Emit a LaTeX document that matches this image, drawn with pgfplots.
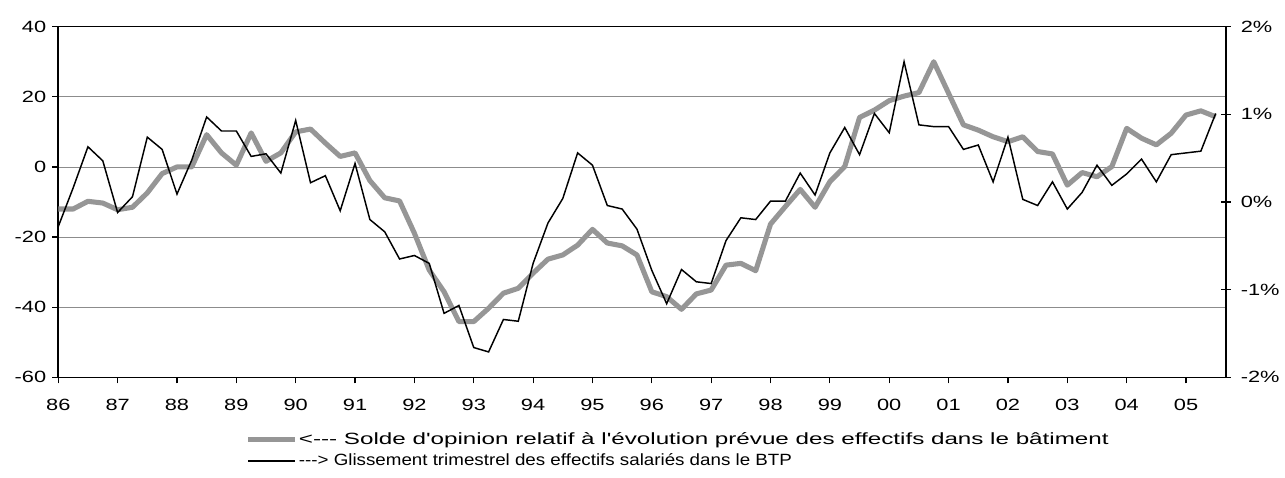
\documentclass[border=0pt]{standalone}
\usepackage{pgfplots}
\pgfplotsset{compat=1.18}
\usepackage{graphicx}
\usepackage{fontspec}
\setmainfont{Liberation Sans}[Ligatures=TeXOff, FakeStretch=1.34]
\definecolor{serieA}{RGB}{150,150,150}
\definecolor{gridc}{RGB}{140,140,140}
\pgfplotstableread{
i v
0 -12
1 -12
2 -9.8
3 -10.3
4 -12.2
5 -11.5
6 -7.4
7 -1.9
8 0
9 0
10 9.2
11 4
12 0.5
13 9.7
14 1.6
15 4
16 10
17 10.8
18 6.8
19 3
20 4
21 -3.9
22 -8.8
23 -9.7
24 -18.9
25 -29.4
26 -35.6
27 -44.1
28 -44.1
29 -40.3
30 -36
31 -34.6
32 -30.3
33 -26.3
34 -25.1
35 -22.3
36 -17.8
37 -21.7
38 -22.5
39 -25.1
40 -35.6
41 -37
42 -40.6
43 -36.2
44 -35.1
45 -28
46 -27.5
47 -29.6
48 -16.3
49 -11.3
50 -6.4
51 -11.5
52 -4.2
53 0.1
54 14.1
55 16.2
56 18.9
57 20.2
58 21.2
59 30
60 21
61 12
62 10.5
63 8.6
64 7.2
65 8.6
66 4.4
67 3.7
68 -5.2
69 -1.6
70 -2.8
71 0.1
72 11
73 8.2
74 6.3
75 9.6
76 14.8
77 16
78 14.3
}\solde
\pgfplotstableread{
i v
0 -0.28
1 0.16
2 0.63
3 0.47
4 -0.12
5 0.06
6 0.74
7 0.60
8 0.09
9 0.48
10 0.97
11 0.81
12 0.81
13 0.52
14 0.55
15 0.33
16 0.93
17 0.22
18 0.30
19 -0.10
20 0.44
21 -0.20
22 -0.34
23 -0.65
24 -0.61
25 -0.70
26 -1.27
27 -1.18
28 -1.66
29 -1.71
30 -1.34
31 -1.36
32 -0.70
33 -0.24
34 0.04
35 0.56
36 0.42
37 -0.04
38 -0.08
39 -0.31
40 -0.78
41 -1.16
42 -0.77
43 -0.91
44 -0.93
45 -0.44
46 -0.18
47 -0.20
48 0.01
49 0.01
50 0.33
51 0.08
52 0.56
53 0.85
54 0.54
55 1.01
56 0.79
57 1.60
58 0.88
59 0.86
60 0.86
61 0.60
62 0.65
63 0.23
64 0.74
65 0.03
66 -0.04
67 0.23
68 -0.08
69 0.11
70 0.42
71 0.19
72 0.32
73 0.49
74 0.23
75 0.54
76 0.56
77 0.58
78 1.01
}\glissement
\begin{document}
\begin{tikzpicture}
\path[use as bounding box] (-43.7pt,-74.8pt) rectangle (920pt,283pt);
\begin{axis}[
  at={(0,0)}, anchor=south west, scale only axis,
  width=875.8pt, height=263pt,
  xmin=0, xmax=78.7, ymin=-60, ymax=40,
  xtick={0,4,...,76},
  xticklabels={86,87,88,89,90,91,92,93,94,95,96,97,98,99,00,01,02,03,04,05},
  ytick={-60,-40,-20,0,20,40},
  yticklabels={-60,-40,-20,0,20,40},
  xtick pos=bottom, ytick pos=left,
  tick align=outside, major tick length=4.5pt,
  ymajorgrids, grid style={gridc, line width=0.6pt},
  axis line style={line width=1.2pt},
  tick style={black, line width=0.9pt},
  ticklabel style={font=\fontsize{12.2}{14}\selectfont},
  xticklabel style={yshift=-8pt},
  yticklabel style={xshift=-1pt},
  clip=false,
]
\addplot[serieA, line width=3.8pt, line join=round] table[x=i, y=v] {\solde};
\end{axis}
\begin{axis}[
  at={(0,0)}, anchor=south west, scale only axis,
  width=875.8pt, height=263pt,
  xmin=0, xmax=78.7, ymin=-2, ymax=2,
  axis x line=none, axis y line*=right,
  ytick={-2,-1,0,1,2},
  yticklabels={-2\%,-1\%,0\%,1\%,2\%},
  tick align=center, major tick length=7pt,
  axis line style={line width=1.2pt},
  tick style={black, line width=0.9pt},
  ticklabel style={font=\fontsize{12.2}{14}\selectfont},
  yticklabel style={xshift=4pt},
  clip=false,
  legend style={at={(0.157,-0.145)}, anchor=north west, draw=none, fill=none,
    font=\fontsize{12.2}{14}\selectfont, row sep=3.5pt,
    nodes={inner sep=1pt}},
  legend cell align=left,
  legend image code/.code={\draw[#1] (0pt,0pt) -- (35pt,0pt);},
]
\addlegendimage{serieA, line width=3.8pt}
\addlegendentry{\scalebox{1.11}[1]{<--- Solde d'opinion relatif à l'évolution prévue des effectifs dans le bâtiment}}
\addplot[black, line width=1.1pt, line join=miter] table[x=i, y=v] {\glissement};
\addlegendentry{\scalebox{0.86}[1]{---> Glissement trimestrel des effectifs salariés dans le BTP}}
\end{axis}
\end{tikzpicture}
\end{document}
